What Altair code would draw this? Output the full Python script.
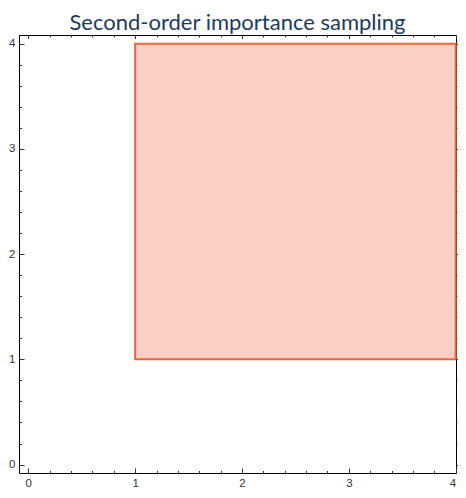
import altair as alt
import pandas as pd

# Region (rectangle) corners
rect_x1 = [1]
rect_x2 = [4]
rect_y1 = [1]
rect_y2 = [4]

major_ticks = [0, 1, 2, 3, 4]
minor_ticks = [0.2, 0.4, 0.6, 0.8, 1.2, 1.4, 1.6, 1.8, 2.2, 2.4, 2.6, 2.8,
               3.2, 3.4, 3.6, 3.8]

x_domain = [-0.087, 4.003]
y_domain = [-0.080, 4.083]

W, H = 437, 438
TICK_COLOR = "#333333"
LABEL_FONT = "Liberation Sans"

df = pd.DataFrame({"x1": rect_x1, "x2": rect_x2, "y1": rect_y1, "y2": rect_y2})

xs = alt.Scale(domain=x_domain, nice=False, zero=False)
ys = alt.Scale(domain=y_domain, nice=False, zero=False)


def tick_axis(orient, offset, values, size):
    return alt.Axis(orient=orient, offset=offset, values=values, labels=False,
                    domain=False, grid=False, ticks=True, tickSize=size,
                    tickColor=TICK_COLOR, tickWidth=1, title=None)


base = alt.Chart(df)

region = base.mark_rect(fill="#f9d0c3", stroke="#e9673b", strokeWidth=2,
                        clip=False).encode(
    x=alt.X("x1:Q", scale=xs,
            axis=alt.Axis(orient="bottom", values=major_ticks, ticks=False,
                          domain=False, grid=False, title=None,
                          labelPadding=4, labelFont=LABEL_FONT,
                          labelFontSize=11.5, labelColor="#333333")),
    x2="x2:Q",
    y=alt.Y("y1:Q", scale=ys,
            axis=alt.Axis(orient="left", values=major_ticks, ticks=False,
                          domain=False, grid=False, title=None,
                          labelPadding=4, labelFont=LABEL_FONT,
                          labelFontSize=11.5, labelColor="#333333")),
    y2="y2:Q",
)


def ghost(xaxis, yaxis):
    return base.mark_point(opacity=0).encode(
        x=alt.X("x1:Q", scale=xs, axis=xaxis),
        y=alt.Y("y1:Q", scale=ys, axis=yaxis),
    )


# bottom frame ticks (pointing up) and left frame ticks (pointing right)
l_bl_major = ghost(tick_axis("top", -H, major_ticks, 5),
                   tick_axis("right", -W, major_ticks, 5))
l_bl_minor = ghost(tick_axis("top", -H, minor_ticks, 2.5),
                   tick_axis("right", -W, minor_ticks, 2.5))
# top frame ticks (pointing down) and short stubs just right of the frame
l_tr_major = ghost(tick_axis("bottom", -H, major_ticks, 3.5),
                   tick_axis("left", -(W + 2), major_ticks, 1.5))
l_tr_minor = ghost(tick_axis("bottom", -H, minor_ticks, 2),
                   tick_axis("left", -(W + 2), minor_ticks, 1))

chart = alt.layer(region, l_bl_major, l_bl_minor, l_tr_major, l_tr_minor).resolve_axis(
    x="independent", y="independent"
).properties(
    width=W,
    height=H,
    autosize=alt.AutoSizeParams(type="none"),
    padding={"left": 11, "top": 27, "right": 2, "bottom": 16},
    title=alt.Title("Second-order importance sampling", font="Lato",
                    fontSize=22, fontWeight="normal", color="#1c3b60",
                    anchor="middle", offset=-0.5),
).configure_view(stroke="black", strokeWidth=1)

chart.save("out.html", embed_options={"renderer": "svg", "actions": False})
